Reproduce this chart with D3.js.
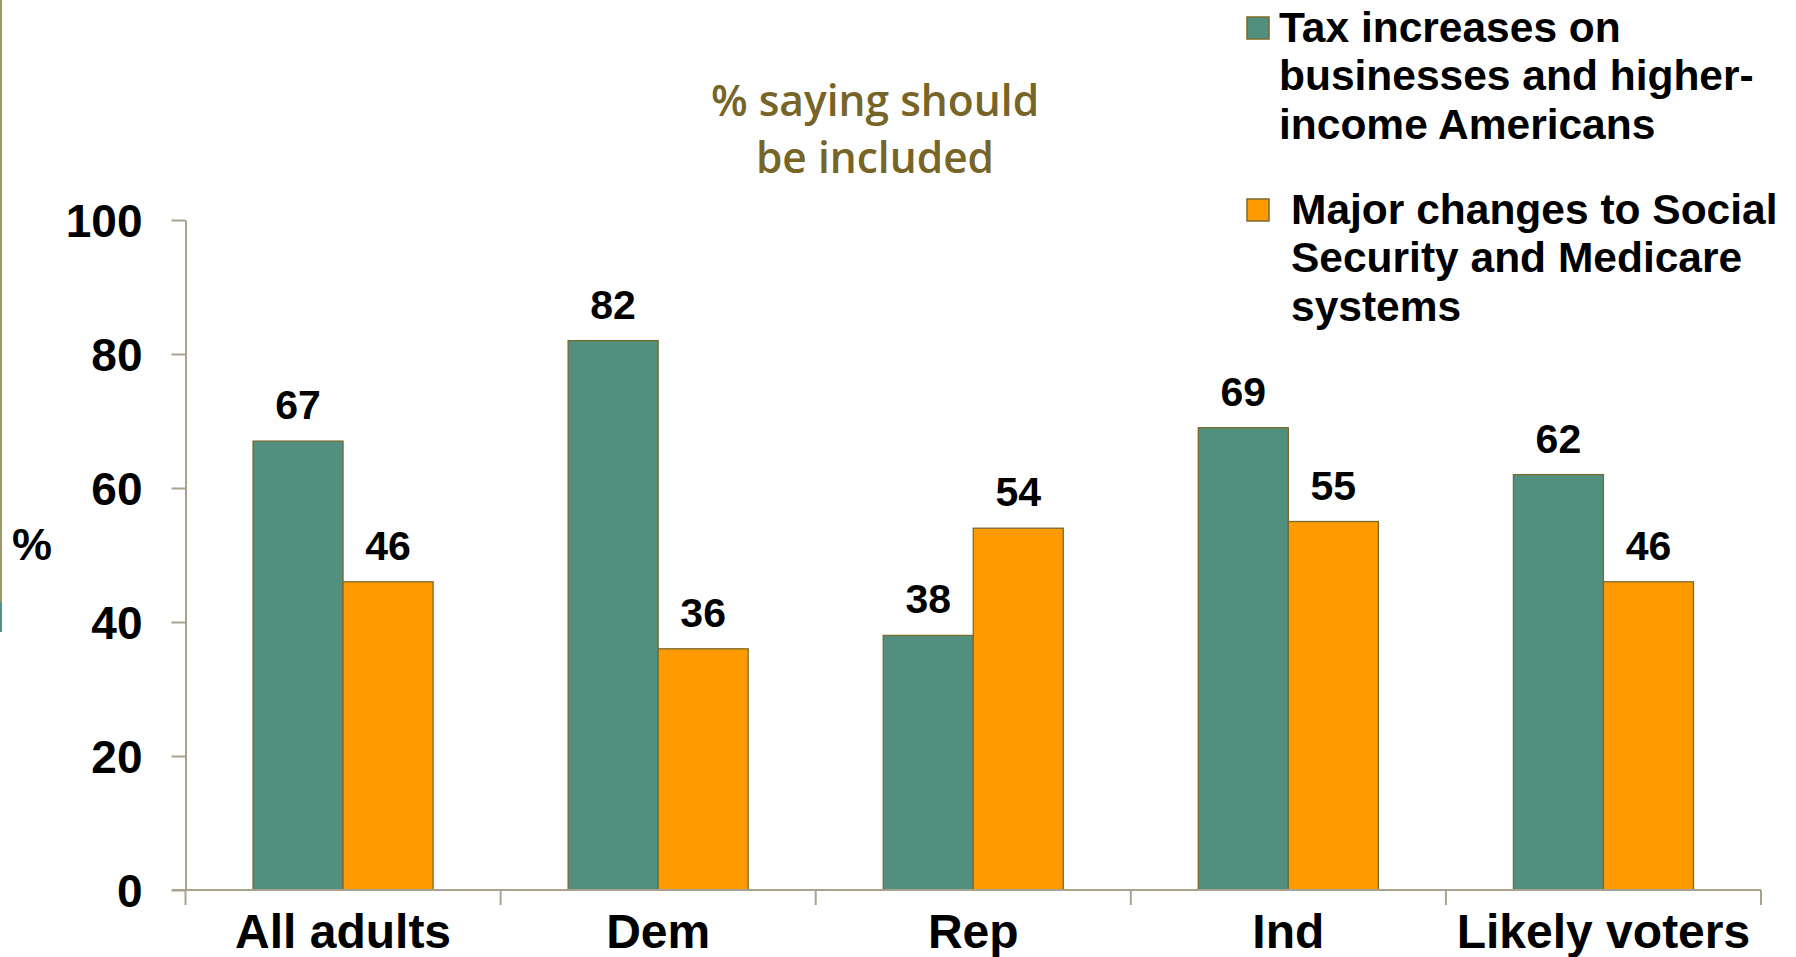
<!DOCTYPE html>
<html>
<head>
<meta charset="utf-8">
<script src="https://cdn.jsdelivr.net/npm/d3@7"></script>
<style>
  html, body { margin: 0; padding: 0; background: #ffffff; }
  svg { display: block; }
</style>
</head>
<body>
<svg id="chart" width="1796" height="957"></svg>
<script>
const categories = ["All adults", "Dem", "Rep", "Ind", "Likely voters"];
const seriesNames = [
  "Tax increases on businesses and higher-income Americans",
  "Major changes to Social Security and Medicare systems"
];
const taxValues = [67, 82, 38, 69, 62];
const changeValues = [46, 36, 54, 55, 46];
const yTicks = [0, 20, 40, 60, 80, 100];
const legendLines = [
  ["Tax increases on", "businesses and higher-", "income Americans"],
  ["Major changes to Social", "Security and Medicare", "systems"]
];
const titleLines = ["% saying should", "be included"];

const colors = ["#518f7e", "#ff9a00"];
const barStroke = "#7a6a2e";
const axisColor = "#a8a28e";

const svg = d3.select("#chart");

// left slide decoration
svg.append("rect").attr("x", 0).attr("y", 0).attr("width", 2).attr("height", 602).attr("fill", "#9e9866");
svg.append("rect").attr("x", 0).attr("y", 602).attr("width", 2).attr("height", 30).attr("fill", "#4f9585");

const x0 = d3.scaleBand().domain(categories).range([185.5, 1761]).padding(0);
const x1 = d3.scaleBand().domain([0, 1]).range([0, x0.bandwidth()]).paddingInner(0).paddingOuter(0.75);
const y = d3.scaleLinear().domain([0, 100]).range([890, 220]);

const data = categories.map((c, i) => ({ cat: c, vals: [taxValues[i], changeValues[i]] }));

// bars
const groups = svg.append("g").selectAll("g").data(data).join("g")
  .attr("transform", d => `translate(${x0(d.cat)},0)`);
groups.selectAll("rect").data(d => d.vals.map((v, k) => ({ v, k }))).join("rect")
  .attr("x", d => x1(d.k))
  .attr("y", d => y(d.v))
  .attr("width", x1.bandwidth())
  .attr("height", d => y(0) - y(d.v))
  .attr("fill", d => colors[d.k])
  .attr("stroke", barStroke)
  .attr("stroke-width", 1.3);
groups.selectAll("text").data(d => d.vals.map((v, k) => ({ v, k }))).join("text")
  .attr("x", d => x1(d.k) + x1.bandwidth() / 2)
  .attr("y", d => y(d.v) - 22)
  .attr("text-anchor", "middle")
  .attr("font-family", "Liberation Sans, Arial, sans-serif")
  .attr("font-weight", "bold")
  .attr("font-size", 41)
  .attr("fill", "#000")
  .text(d => d.v);

// y axis
const yAxis = svg.append("g").attr("transform", "translate(185.5,0)")
  .call(d3.axisLeft(y).tickValues(yTicks).tickSize(14).tickPadding(29).tickSizeOuter(0));
yAxis.select(".domain").attr("stroke", axisColor).attr("stroke-width", 2);
yAxis.selectAll(".tick line").attr("stroke", axisColor).attr("stroke-width", 2);
yAxis.selectAll(".tick text")
  .attr("font-family", "Liberation Sans, Arial, sans-serif")
  .attr("font-weight", "bold")
  .attr("font-size", 46)
  .attr("fill", "#000")
  .attr("dy", "0.36em");

// x axis
const xAxis = svg.append("g").attr("transform", "translate(0,890)")
  .call(d3.axisBottom(x0).tickSize(0).tickPadding(0).tickFormat(""));
xAxis.select(".domain").attr("stroke", axisColor).attr("stroke-width", 2).attr("d", "M172,0H1761");
xAxis.selectAll(".tick").remove();
const boundaries = categories.map(c => x0(c)).concat([x0.range()[1]]);
xAxis.selectAll("line.sep").data(boundaries).join("line")
  .attr("class", "sep")
  .attr("x1", d => d).attr("x2", d => d)
  .attr("y1", 0).attr("y2", 15)
  .attr("stroke", axisColor).attr("stroke-width", 2);
xAxis.selectAll("text.cat").data(categories).join("text")
  .attr("class", "cat")
  .attr("x", d => x0(d) + x0.bandwidth() / 2)
  .attr("y", 58)
  .attr("text-anchor", "middle")
  .attr("font-family", "Liberation Sans, Arial, sans-serif")
  .attr("font-weight", "bold")
  .attr("font-size", 48)
  .attr("fill", "#000")
  .text(d => d);

// y label
svg.append("text").attr("x", 32).attr("y", 560)
  .attr("text-anchor", "middle")
  .attr("font-family", "Liberation Sans, Arial, sans-serif")
  .attr("font-weight", "bold")
  .attr("font-size", 45)
  .attr("fill", "#000")
  .text("%");

// title
svg.append("g").selectAll("text").data(titleLines).join("text")
  .attr("x", 875)
  .attr("y", (d, i) => 116 + i * 57)
  .attr("text-anchor", "middle")
  .attr("font-family", "Open Sans, Noto Sans, sans-serif")
  .attr("font-weight", 600)
  .attr("font-size", 42.5)
  .attr("fill", "#776528")
  .text(d => d);

// legend
const legendY = [17, 199];
const legendTextX = [1279, 1291];
const legendBase = [42, 224];
const lg = svg.append("g");
legendLines.forEach((lines, k) => {
  lg.append("rect")
    .attr("x", 1247).attr("y", legendY[k]).attr("width", 22).attr("height", 22)
    .attr("fill", colors[k]).attr("stroke", barStroke).attr("stroke-width", 1.5);
  lg.append("g").selectAll("text").data(lines).join("text")
    .attr("x", legendTextX[k])
    .attr("y", (d, i) => legendBase[k] + i * 48.3)
    .attr("font-family", "Liberation Sans, Arial, sans-serif")
    .attr("font-weight", "bold")
    .attr("font-size", 42.5)
    .attr("fill", "#000")
    .text(d => d);
});
</script>
</body>
</html>
